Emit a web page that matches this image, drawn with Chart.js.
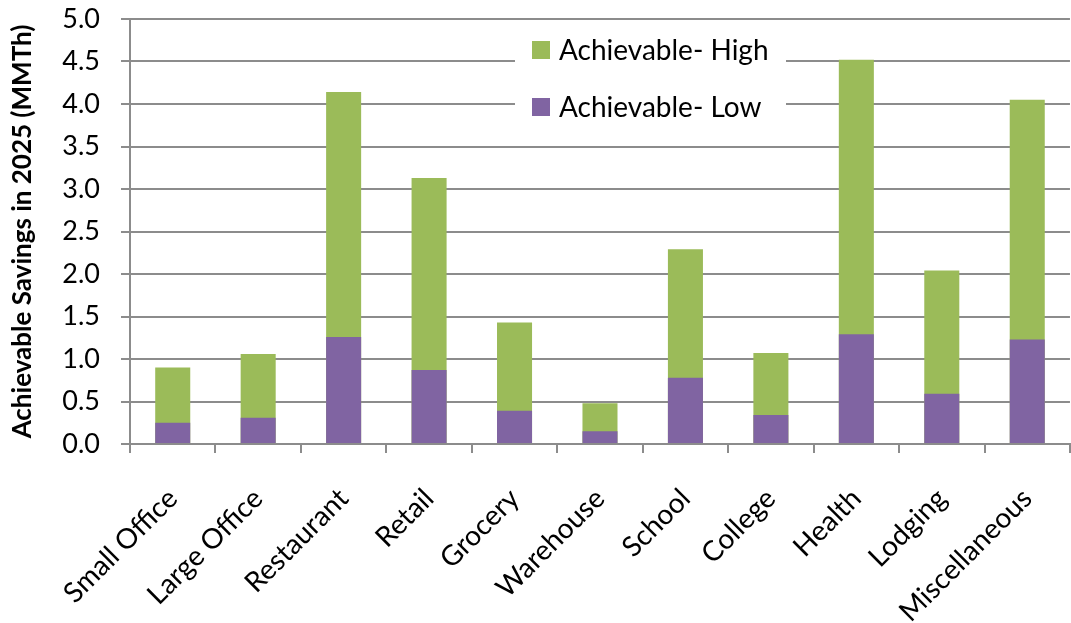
<!DOCTYPE html>
<html>
<head>
<meta charset="utf-8">
<title>Achievable Savings in 2025</title>
<script src="https://cdn.jsdelivr.net/npm/chart.js@4.4.0/dist/chart.umd.min.js"></script>
<style>
  html, body { margin: 0; padding: 0; background: #ffffff; overflow: hidden; }
  #wrap { position: relative; width: 1080px; height: 623px; }
</style>
</head>
<body>
<div id="wrap"><canvas id="chart"></canvas></div>
<script>
// Building types
const categories = ['Small Office', 'Large Office', 'Restaurant', 'Retail', 'Grocery',
  'Warehouse', 'School', 'College', 'Health', 'Lodging', 'Miscellaneous'];

// Achievable savings in 2025, MMTh
const achievableLow  = [0.25, 0.31, 1.26, 0.87, 0.39, 0.15, 0.78, 0.34, 1.29, 0.59, 1.23];
const achievableHigh = [0.90, 1.06, 4.14, 3.13, 1.43, 0.48, 2.29, 1.07, 4.52, 2.04, 4.05];

// Y axis ticks
const yTicks = ['0.0', '0.5', '1.0', '1.5', '2.0', '2.5', '3.0', '3.5', '4.0', '4.5', '5.0'];

const GREEN = '#9BBB59';
const PURPLE = '#8064A2';
const AXIS_GREY = '#8c8c8c';
const FONT = 'Lato, "Open Sans", sans-serif';

// Legend boxed over the top of the plot
const boxedLegend = {
  id: 'boxedLegend',
  afterDraw(chart, args, opts) {
    const ctx = chart.ctx;
    ctx.save();
    ctx.fillStyle = '#ffffff';
    ctx.fillRect(opts.left, opts.top, opts.width, opts.height);
    const items = [chart.data.datasets[1], chart.data.datasets[0]];
    ctx.font = opts.font;
    ctx.textBaseline = 'middle';
    ctx.textAlign = 'left';
    items.forEach((ds, i) => {
      const cy = opts.firstRow + i * opts.rowGap;
      ctx.fillStyle = ds.backgroundColor;
      ctx.fillRect(opts.markerX, cy - opts.marker / 2, opts.marker, opts.marker);
      ctx.fillStyle = '#000000';
      ctx.fillText(ds.label, opts.textX, cy + 1);
    });
    ctx.restore();
  }
};

new Chart(document.getElementById('chart'), {
  type: 'bar',
  data: {
    labels: categories,
    datasets: [
      { label: 'Achievable- Low', data: achievableLow, backgroundColor: PURPLE,
        categoryPercentage: 1, barPercentage: 0.41 },
      { label: 'Achievable- High', data: achievableHigh, backgroundColor: GREEN,
        categoryPercentage: 1, barPercentage: 0.41 }
    ]
  },
  options: {
    responsive: true,
    maintainAspectRatio: false,
    animation: false,
    layout: { padding: { left: 0, right: 0, top: 19, bottom: 0 } },
    plugins: {
      legend: { display: false },
      tooltip: { enabled: false },
      boxedLegend: {
        left: 515, top: 26, width: 271, height: 104,
        markerX: 532, marker: 18, textX: 559,
        firstRow: 50, rowGap: 57,
        font: '28px ' + FONT
      }
    },
    scales: {
      x: {
        stacked: true,
        grid: { display: true, drawOnChartArea: false, drawTicks: true, tickLength: 9,
                offset: true, color: AXIS_GREY, lineWidth: 2 },
        border: { display: true, color: AXIS_GREY, width: 2 },
        ticks: { color: '#000000', font: { family: FONT, size: 28 },
                 minRotation: 45, maxRotation: 45, padding: 29, autoSkip: false },
        afterFit(scale) { scale.height = 179; }
      },
      y: {
        stacked: false,
        min: 0, max: 5,
        grid: { color: AXIS_GREY, lineWidth: 2, tickLength: 9, drawTicks: true },
        border: { display: true, color: AXIS_GREY, width: 2 },
        afterBuildTicks(scale) {
          scale.ticks = yTicks.map(v => ({ value: parseFloat(v) }));
        },
        ticks: {
          color: '#000000', font: { family: FONT, size: 27 }, padding: 21,
          callback(value, index) { return yTicks[index]; }
        },
        title: {
          display: true,
          text: 'Achievable Savings in 2025 (MMTh)',
          color: '#000000',
          font: { family: FONT, size: 26, weight: 'bold' },
          padding: { top: 7, bottom: 0 }
        },
        afterFit(scale) {
          scale.width = 130;
          scale.paddingTop = 0;
          scale.paddingBottom = 0;
        }
      }
    }
  },
  plugins: [boxedLegend]
});
</script>
</body>
</html>
